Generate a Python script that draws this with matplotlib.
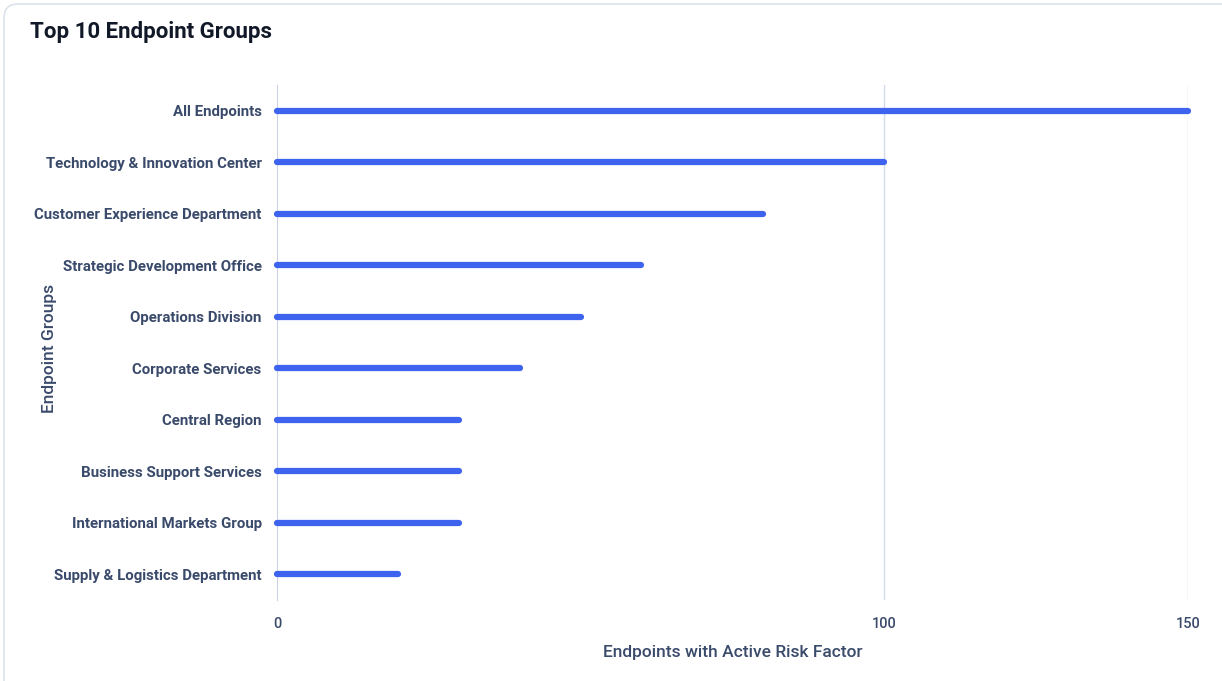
import matplotlib
matplotlib.use("Agg")
import matplotlib.pyplot as plt
from matplotlib.patches import FancyBboxPatch

categories = ["All Endpoints", "Technology & Innovation Center", "Customer Experience Department",
              "Strategic Development Office", "Operations Division", "Corporate Services",
              "Central Region", "Business Support Services", "International Markets Group",
              "Supply & Logistics Department"]
values = [150, 100, 80, 60, 50, 40, 30, 30, 30, 20]
xticks = [0, 100, 150]

W, H = 1222, 681
fig = plt.figure(figsize=(W/100, H/100), dpi=100)
fig.patch.set_facecolor("white")
bg = fig.add_axes([0, 0, 1, 1])
bg.set_axis_off()
bg.set_xlim(0, W); bg.set_ylim(H, 0)
bg.add_patch(FancyBboxPatch((4, 4), W + 20, H + 20, boxstyle="round,pad=0,rounding_size=14",
                            fc="white", ec="#dde3ec", lw=1.2))
ax = fig.add_axes([277/W, 1-600/H, (1188-277)/W, 515/H])
ax.set_facecolor("none")
bar_color = "#3d63ef"
txt = "#3a4a6b"
ys = list(range(len(categories)))[::-1]
for y, v in zip(ys, values):
    ax.plot([0, v], [y, y], color=bar_color, lw=4.5, solid_capstyle="round", zorder=3, clip_on=False)
ax.set_ylim(-0.5, len(categories)-0.5)
ax.set_xlim(0, 150)
ax.set_yticks(ys)
ax.set_yticklabels(categories, fontsize=10.8, color=txt, fontweight="semibold", fontfamily="Roboto")
ax.set_xticks(xticks)
ax.set_xticklabels([str(t) for t in xticks], fontsize=10.5, color=txt, fontfamily="Roboto", fontweight="medium")
ax.tick_params(length=0, pad=11)
ax.tick_params(axis="x", pad=12)
for t in xticks[1:]:
    ax.axvline(t, color="#d3dbe8", lw=1, zorder=1)
for s in ["top", "right", "bottom"]:
    ax.spines[s].set_visible(False)
ax.spines["left"].set_color("#c9d3e3")
ax.set_xlabel("Endpoints with Active Risk Factor", fontsize=12.5, color=txt, fontfamily="Roboto", labelpad=10, fontweight="medium")
fig.text(42/W, 1-348/H, "Endpoint Groups", rotation=90, ha="left", va="center", fontsize=12.5, color=txt, fontfamily="Roboto", fontweight="medium")
fig.text(30/W, 1-32/H, "Top 10 Endpoint Groups", fontsize=16, fontweight="bold", color="#111827", fontfamily="Roboto", va="center")
fig.savefig("out.png", dpi=100)
